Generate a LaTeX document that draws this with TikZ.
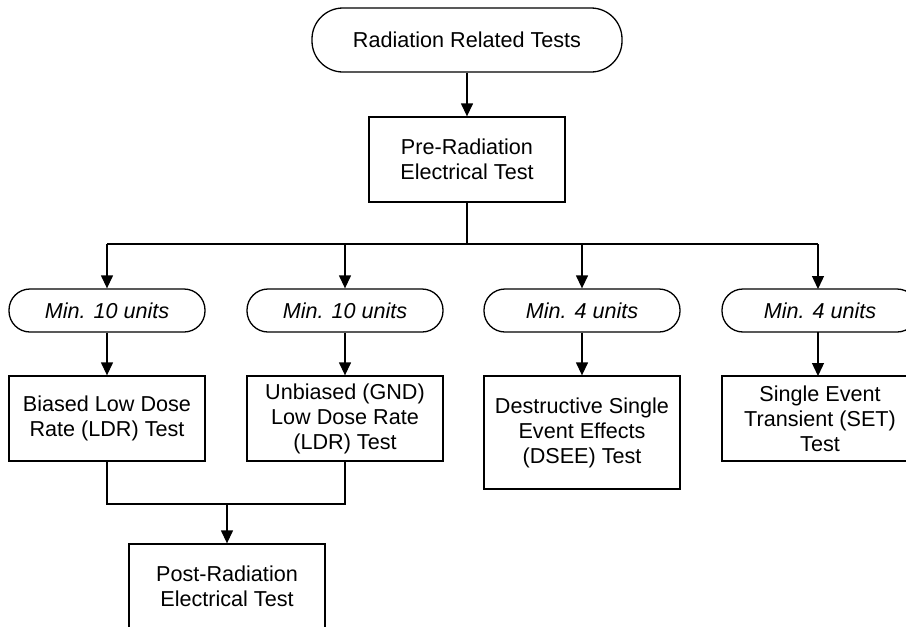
\documentclass[tikz,border=0pt]{standalone}
\usepackage{fontspec}
\setmainfont{Liberation Sans}
\usetikzlibrary{arrows.meta}
\begin{document}
\begin{tikzpicture}[x=1pt,y=-1pt,
  every node/.style={font=\fontsize{21.6}{25}\selectfont, align=center, inner sep=0pt},
  line/.style={line width=1.3pt},
  arr/.style={line width=1.3pt, -{Triangle[length=13pt,width=12pt]}},
  termbox/.style={draw, line width=1.3pt, minimum width=310pt, minimum height=64pt, rounded corners=31pt},
  unitbox/.style={draw, line width=1.3pt, minimum width=196pt, minimum height=43pt, rounded corners=21pt, font=\fontsize{21.6}{25}\selectfont\itshape},
  procbox/.style={draw, line width=1.3pt, minimum width=196pt, minimum height=85pt},
  tallbox/.style={draw, line width=1.3pt, minimum width=196pt, minimum height=113pt}
]
\useasboundingbox (0,0) rectangle (906,627);
\clip (0,0) rectangle (906,627);
\fill[white] (0,0) rectangle (906,627);

\node[termbox] (top) at (467,40) {Radiation Related Tests};
\node[procbox] (pre) at (467,159.5) {Pre-Radiation\\Electrical Test};

\coordinate (bus) at (467,244);
\node[unitbox] (u1) at (107,310.5) {Min. 10 units};
\node[unitbox] (u2) at (345,310.5) {Min. 10 units};
\node[unitbox] (u3) at (582,310.5) {Min. 4 units};
\node[unitbox] (u4) at (820,310.5) {Min. 4 units};

\node[procbox] (b1) at (107,418.5) {Biased Low Dose\\Rate (LDR) Test};
\node[procbox] (b2) at (345,418.5) {Unbiased (GND)\\Low Dose Rate\\(LDR) Test};
\node[tallbox] (b3) at (582,432.5) {Destructive Single\\Event Effects\\(DSEE) Test};
\node[procbox] (b4) at (820,418.5) {Single Event\\Transient (SET)\\Test};

\coordinate (merge) at (227,504);
\node[procbox] (post) at (227,586.5) {Post-Radiation\\Electrical Test};

\draw[arr] (top) -- (pre);
\draw[line] (pre.south) -- (bus);
\draw[line] (107,244) -- (818,244);
\draw[arr] (107,244) -- (u1.north);
\draw[arr] (345,244) -- (u2.north);
\draw[arr] (582,244) -- (u3.north);
\draw[arr] (818,244) -- (818,289);
\draw[arr] (u1) -- (b1);
\draw[arr] (u2) -- (b2);
\draw[arr] (u3) -- (b3);
\draw[arr] (818,332) -- (818,376);
\draw[line] (b1.south) -- (107,504) -- (345,504) -- (b2.south);
\draw[arr] (merge) -- (post.north);
\end{tikzpicture}
\end{document}
